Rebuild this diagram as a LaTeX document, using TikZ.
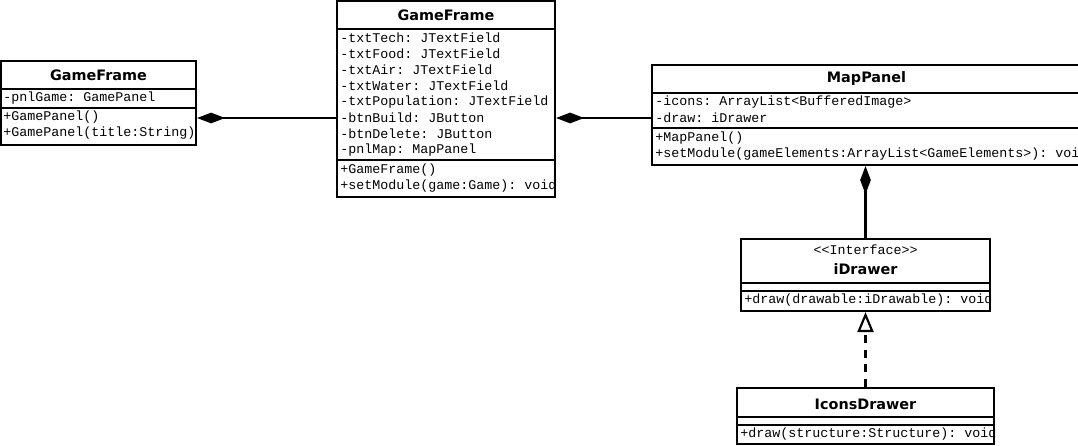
\documentclass[tikz,border=0pt]{standalone}
\usepackage{fontspec}
\setmainfont{DejaVu Sans}
\setmonofont{Liberation Mono}
\usetikzlibrary{arrows.meta}

\tikzset{
	classbox/.style={draw, line width=1.6pt, inner sep=0pt},
	classname/.style={inner sep=0pt, font=\bfseries\fontsize{10.8}{12}\selectfont},
	stereo/.style={inner sep=0pt, font=\ttfamily\fontsize{10}{12}\selectfont},
	member/.style={anchor=west, inner sep=0pt, font=\ttfamily\fontsize{10}{12}\selectfont},
	sepline/.style={line width=1.6pt},
	compose/.style={line width=1.6pt, -{Diamond[length=21pt, width=8pt]}},
	realize/.style={line width=1.6pt, dash pattern=on 6pt off 5pt, -{Triangle[open, length=15pt, width=12pt, fill=white]}},
}

\begin{document}
\begin{tikzpicture}[x=0.75pt,y=0.75pt,yscale=-1,xscale=1]
				\useasboundingbox (0,0) rectangle (1078,446);
				\clip (0,0) rectangle (1078,446);

				%Shape: Class GameFrame (left)
				\node[classbox, minimum width=146.25pt, minimum height=63pt] (gfl) at (98.5,103) {};
				\begin{scope}
				\clip (gfl.south west) rectangle (gfl.north east);
				% Text Node
				\node[classname] (gflname) at (98.5,75) {GameFrame};
				% Text Node
				\node[member] (pnlgame) at (3,98) {-pnlGame: GamePanel};
				% Text Node
				\node[member] (gflctor) at (3,117) {+GamePanel()};
				% Text Node
				\node[member] (gflctortitle) at (3,133) {+GamePanel(title:String)};
				\end{scope}
				\draw[sepline] (gfl.west |- 0,89) -- (gfl.east |- 0,89);
				\draw[sepline] (gfl.west |- 0,108) -- (gfl.east |- 0,108);

				%Shape: Class GameFrame (middle)
				\node[classbox, minimum width=163.5pt, minimum height=147pt] (gfm) at (446,99) {};
				\begin{scope}
				\clip (gfm.south west) rectangle (gfm.north east);
				% Text Node
				\node[classname] (gfmname) at (446,15) {GameFrame};
				% Text Node
				\node[member] (txttech) at (340,38) {-txtTech: JTextField};
				\node[member] (txtfood) at (340,54) {-txtFood: JTextField};
				\node[member] (txtair) at (340,70) {-txtAir: JTextField};
				\node[member] (txtwater) at (340,86) {-txtWater: JTextField};
				\node[member] (txtpopulation) at (340,102) {-txtPopulation: JTextField};
				\node[member] (btnbuild) at (340,118) {-btnBuild: JButton};
				\node[member] (btndelete) at (340,134) {-btnDelete: JButton};
				\node[member] (pnlmap) at (340,150) {-pnlMap: MapPanel};
				% Text Node
				\node[member] (gfmctor) at (340,170) {+GameFrame()};
				\node[member] (gfmsetmodule) at (340,186) {+setModule(game:Game): void};
				\end{scope}
				\draw[sepline] (gfm.west |- 0,29) -- (gfm.east |- 0,29);
				\draw[sepline] (gfm.west |- 0,160) -- (gfm.east |- 0,160);

				%Shape: Class MapPanel
				\node[classbox, minimum width=321.75pt, minimum height=75pt] (mpl) at (866.5,115) {};
				\begin{scope}
				\clip (mpl.south west) rectangle (mpl.north east);
				% Text Node
				\node[classname] (mplname) at (866.5,79) {MapPanel};
				% Text Node
				\node[member] (icons) at (655,102) {-icons: ArrayList<BufferedImage>};
				\node[member] (drawfield) at (655,118) {-draw: iDrawer};
				% Text Node
				\node[member] (mplctor) at (655,138) {+MapPanel()};
				\node[member] (mplsetmodule) at (655,154) {+setModule(gameElements:ArrayList<GameElements>): void};
				\end{scope}
				\draw[sepline] (mpl.west |- 0,93) -- (mpl.east |- 0,93);
				\draw[sepline] (mpl.west |- 0,128) -- (mpl.east |- 0,128);

				%Shape: Interface iDrawer
				\node[classbox, minimum width=186.75pt, minimum height=54pt] (idw) at (865.5,275) {};
				\begin{scope}
				\clip (idw.south west) rectangle (idw.north east);
				% Text Node
				\node[stereo] (idwstereo) at (865.5,250) {<<Interface>>};
				\node[classname] (idwname) at (865.5,269) {iDrawer};
				% Text Node
				\node[member] (idwdraw) at (744,300) {+draw(drawable:iDrawable): void};
				\end{scope}
				\draw[sepline] (idw.west |- 0,283) -- (idw.east |- 0,283);
				\draw[sepline] (idw.west |- 0,291) -- (idw.east |- 0,291);

				%Shape: Class IconsDrawer
				\node[classbox, minimum width=192.75pt, minimum height=42pt] (icd) at (865.5,416) {};
				\begin{scope}
				\clip (icd.south west) rectangle (icd.north east);
				% Text Node
				\node[classname] (icdname) at (865.5,404) {IconsDrawer};
				% Text Node
				\node[member] (icddraw) at (740,434) {+draw(structure:Structure): void};
				\end{scope}
				\draw[sepline] (icd.west |- 0,417) -- (icd.east |- 0,417);
				\draw[sepline] (icd.west |- 0,425) -- (icd.east |- 0,425);

				%Straight Lines (composition)
				\draw[compose] (gfm.west |- btnbuild) -- (gfl.east |- btnbuild);
				\draw[compose] (mpl.west |- btnbuild) -- (gfm.east |- btnbuild);
				\draw[compose] (idw.north) -- (idw.north |- mpl.south);
				%Straight Lines (realization)
				\draw[realize] (icd.north) -- (icd.north |- idw.south);

			\end{tikzpicture}
\end{document}
